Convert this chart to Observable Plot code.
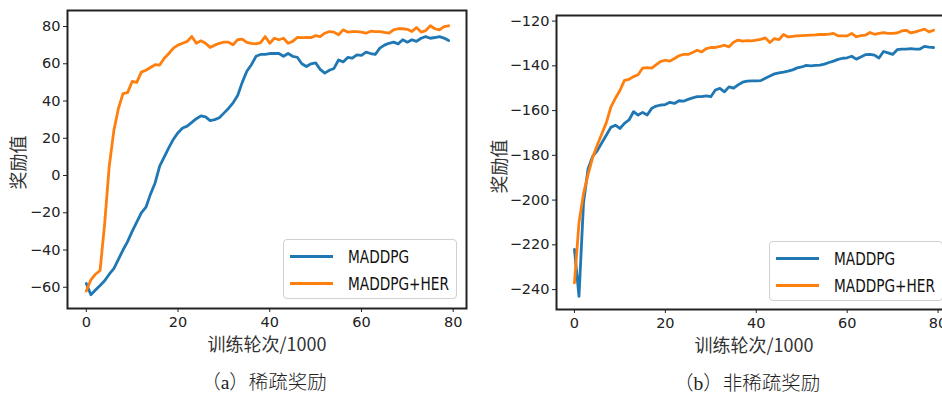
<!DOCTYPE html>
<html>
<head>
<meta charset="utf-8">
<script src="https://cdn.jsdelivr.net/npm/d3@7"></script>
<script src="https://cdn.jsdelivr.net/npm/@observablehq/plot@0.6"></script>
<style>
  html, body { margin: 0; padding: 0; background: #fff; overflow: hidden; }
  #wrap { position: relative; width: 942px; height: 394px; overflow: hidden; }
  .panel { position: absolute; top: 0; }
  .panel svg { max-width: none !important; }
  .legend { position: absolute; border: 1px solid #d0d0d0; border-radius: 4px; background: rgba(255,255,255,0.85);
            font-family: "DejaVu Sans", sans-serif; font-size: 18px; color: #111; }
  .legend .row { position: absolute; left: 0; height: 20px; display: flex; align-items: center; white-space: nowrap; }
  .legend .swatch { width: 43px; height: 3px; margin-left: 6px; margin-right: 15px; flex: none; }
  .legend .txt { display: inline-block; transform: scaleX(0.76); transform-origin: left center; }
</style>
</head>
<body>
<div id="wrap"></div>
<script>
// ---------- data ----------
const episodes = [0,1,2,3,4,5,6,7,8,9,10,11,12,13,14,15,16,17,18,19,20,21,22,23,24,25,26,27,28,29,30,31,32,33,34,35,36,37,38,39,40,41,42,43,44,45,46,47,48,49,50,51,52,53,54,55,56,57,58,59,60,61,62,63,64,65,66,67,68,69,70,71,72,73,74,75,76,77,78,79];
const seriesNames = ["MADDPG", "MADDPG+HER"];
const seriesColors = ["#1f77b4", "#ff7f0e"];

// (a) sparse reward
const sparseMADDPG = [-58,-64,-61.5,-59,-56.5,-53,-50,-45,-40,-35.5,-30,-25,-20,-17,-10,-4,5,10,15,19.5,23,25.5,26.5,28.5,30.5,32,31.5,29.5,30,31,33.5,36,39,43,50,56,59.5,64,65,65,65.5,65.5,65.5,64,65.5,64,63.5,60,58.5,60,60.5,57,55,56.5,57.5,62,61,63.4,63,64.8,64.5,66.2,65.5,65,68.4,70,71,71.6,70.7,72.9,71.6,72.9,72,73.7,74.6,73.7,74.1,74.6,73.8,72.5];
const sparseHER = [-62,-56,-53,-51,-26,5,24,36,44,44.5,50.5,50,55.5,56.5,58,59.5,59.3,63,65.5,68.4,70,71,72,74.6,71,72.3,71,68.8,70,71,71.6,71.6,70.2,72.9,73.2,71.5,71,70.7,71.4,74.6,71,73.7,72.9,73.7,71,72,74.1,74,74.1,74,75.1,74.6,76.4,77.3,77,75.6,78.2,77,77.3,77.3,77,76.4,77.5,77.3,77.3,76.8,76.4,78.2,78.8,78.8,78.5,77.3,79.5,77,77.8,80.4,78.8,78.2,80,80.4];

// (b) non-sparse reward
const denseMADDPG = [-222,-243,-201,-186,-180.5,-178,-174.5,-171,-167.5,-166.5,-168,-165.7,-164.2,-160.5,-162,-160.8,-162,-159,-158,-157.5,-157.3,-156.3,-156.8,-155.6,-155.8,-155,-154.3,-153.8,-153.8,-153.4,-153.8,-150.8,-150.1,-151.6,-149.4,-150,-148.5,-147.3,-146.8,-146.7,-146.7,-146.6,-145.5,-144.5,-143.6,-143.1,-142.8,-142.4,-141.8,-140.9,-140.5,-139.8,-140,-139.8,-139.7,-139.2,-138.5,-137.9,-137.1,-136.6,-136.4,-135.7,-137,-136,-135,-134.9,-135.2,-136.5,-133.6,-134.2,-134.9,-132.8,-132.5,-132.5,-132.3,-132.5,-132.5,-131.3,-131.6,-131.8];
const denseHER = [-237,-210,-197,-188.5,-181,-175.5,-170.5,-165.5,-158.5,-154.5,-151,-146.5,-146,-144.8,-144,-141,-140.8,-141,-139.5,-138,-137.5,-137.9,-136.7,-135.5,-134.9,-134.9,-134,-133,-133.8,-132.3,-131.8,-131.8,-131.3,-130.8,-131.5,-129.5,-128.5,-129,-128.7,-128.8,-128.5,-128.2,-127.5,-129.6,-127.8,-128.3,-126,-127.1,-126.8,-126.6,-126.5,-126.4,-126.3,-126.2,-126,-126,-125.8,-125.5,-126.6,-126.6,-126.6,-125.5,-127,-126.5,-126.3,-125.1,-125.9,-125.5,-125.1,-125.5,-125.5,-125.3,-124.4,-124.1,-125.3,-124.8,-124.2,-123.6,-124.8,-124.1];

const xTicks = [0, 20, 40, 60, 80];
const yTicksA = [-60, -40, -20, 0, 20, 40, 60, 80];
const yTicksB = [-240, -220, -200, -180, -160, -140, -120];
const xLabel = "训练轮次/1000";
const yLabel = "奖励值";
const captionA = "（a）稀疏奖励";
const captionB = "（b）非稀疏奖励";

function longTable(a, b) {
  const rows = [];
  episodes.forEach((e, i) => rows.push({x: e, y: a[i], s: seriesNames[0]}));
  episodes.forEach((e, i) => rows.push({x: e, y: b[i], s: seriesNames[1]}));
  return rows;
}

function panel(cfg) {
  const rows = longTable(cfg.a, cfg.b);
  const centered = {textAnchor: "middle", lineAnchor: "middle"};
  return Plot.plot({
    width: cfg.width, height: 394,
    marginLeft: cfg.ml, marginRight: cfg.mr, marginTop: cfg.mt, marginBottom: 394 - cfg.bottom,
    style: {fontFamily: "DejaVu Sans, sans-serif", fontSize: "14.5px", color: "#222", background: "transparent", overflow: "visible", maxWidth: "none"},
    x: {domain: cfg.xd},
    y: {domain: cfg.yd},
    color: {domain: seriesNames, range: seriesColors},
    marks: [
      Plot.line(rows, {x: "x", y: "y", z: "s", stroke: "s", strokeWidth: 2.8, strokeLinejoin: "round"}),
      Plot.frame({stroke: "#222", strokeWidth: 2}),
      Plot.axisX({ticks: xTicks, tickSize: 4, tickPadding: 4, label: null, stroke: "#222"}),
      Plot.axisY({ticks: cfg.yt, tickSize: 4, tickPadding: 3, label: null, stroke: "#222"}),
      Plot.text([xLabel], {...centered, frameAnchor: "bottom", dy: 37, fontSize: 18, fontFamily: "Noto Sans CJK SC", fill: "#333", letterSpacing: "1px"}),
      Plot.text([yLabel], {...centered, frameAnchor: "left", rotate: -90, dx: cfg.ydx, dy: cfg.ydy, fontSize: 18, fontFamily: "Noto Sans CJK SC", fill: "#333", letterSpacing: "1px"}),
      Plot.text([cfg.caption], {...centered, frameAnchor: "bottom", dx: cfg.cdx, dy: 74, fontSize: 19.5, fontFamily: "Liberation Serif, Noto Sans CJK SC", fontWeight: 300, fill: "#222"})
    ]
  });
}

const wrap = document.getElementById("wrap");

function addPanel(left, cfg, legendBox) {
  const div = document.createElement("div");
  div.className = "panel";
  div.style.left = left + "px";
  div.style.width = cfg.width + "px";
  div.appendChild(panel(cfg));
  wrap.appendChild(div);
  const lg = document.createElement("div");
  lg.className = "legend";
  lg.style.left = legendBox.x + "px";
  lg.style.top = legendBox.y + "px";
  lg.style.width = legendBox.w + "px";
  lg.style.height = legendBox.h + "px";
  seriesNames.forEach((name, i) => {
    const r = document.createElement("div");
    r.className = "row";
    r.style.top = (i === 0 ? 6 : 33) + "px";
    const sw = document.createElement("span");
    sw.className = "swatch";
    sw.style.background = seriesColors[i];
    const t = document.createElement("span");
    t.className = "txt";
    t.textContent = name;
    r.appendChild(sw); r.appendChild(t);
    lg.appendChild(r);
  });
  wrap.appendChild(lg);
}

addPanel(0, {a: sparseMADDPG, b: sparseHER, width: 470, ml: 67, mr: 4, mt: 10, bottom: 308,
  xd: [-4.1, 82.9], yd: [-71.4, 88.6], yt: yTicksA, ydx: -48, ydy: 3, cdx: -3, caption: captionA},
  {x: 283, y: 239, w: 172, h: 58});
addPanel(470, {a: denseMADDPG, b: denseHER, width: 490, ml: 86, mr: 9, mt: 15, bottom: 309,
  xd: [-3.95, 82.95], yd: [-248.9, -117.5], yt: yTicksB, ydx: -56, ydy: 4, cdx: -7, caption: captionB},
  {x: 769, y: 241, w: 172, h: 58});
</script>
</body>
</html>
